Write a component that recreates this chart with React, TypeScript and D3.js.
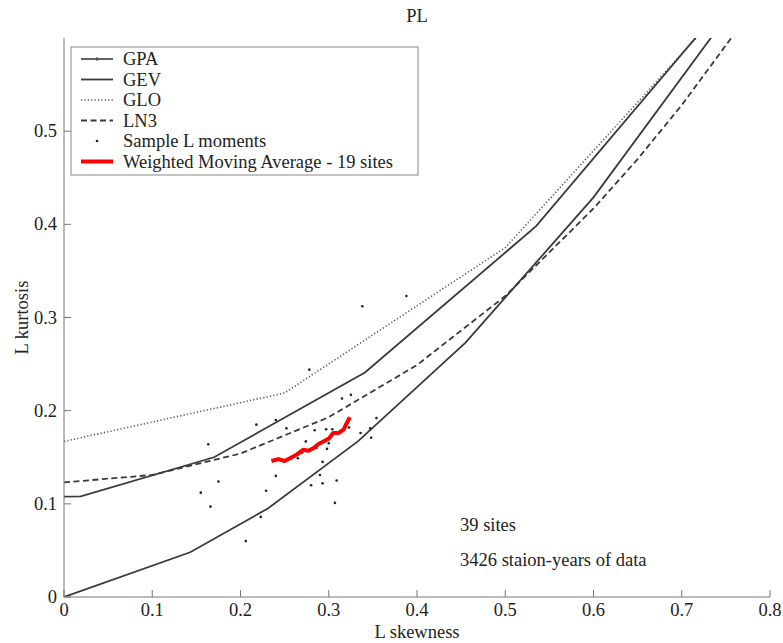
import React from 'react';
import * as d3 from 'd3';

// ---- data ----
const X_TICKS = [0, 0.1, 0.2, 0.3, 0.4, 0.5, 0.6, 0.7, 0.8];
const Y_TICKS = [0, 0.1, 0.2, 0.3, 0.4, 0.5];

const GPA_T3 = [0, 0.143, 0.231, 0.333, 0.455, 0.6, 0.778];
const GPA_T4 = [0, 0.048, 0.095, 0.167, 0.273, 0.429, 0.658];

const GEV_T3 = [-0.114, 0.019, 0.17, 0.341, 0.535, 0.753];
const GEV_T4 = [0.106, 0.108, 0.15, 0.241, 0.398, 0.642];

const GLO_T3 = [0, 0.25, 0.5, 0.75];
const GLO_T4 = [0.167, 0.219, 0.375, 0.635];

const LN3_T3 = [0, 0.1, 0.2, 0.3, 0.4, 0.5, 0.6, 0.65, 0.7, 0.76];
const LN3_T4 = [0.123, 0.131, 0.154, 0.193, 0.249, 0.323, 0.417, 0.47, 0.528, 0.605];

const SAMPLE_T3 = [
  0.315, 0.325, 0.218, 0.24, 0.252, 0.284, 0.297, 0.304, 0.323, 0.354,
  0.336, 0.347, 0.348, 0.1635, 0.274, 0.3, 0.298, 0.265, 0.293, 0.24,
  0.29, 0.175, 0.28, 0.293, 0.309, 0.155, 0.229, 0.166, 0.307, 0.223,
  0.206, 0.388, 0.338, 0.278, 0.258, 0.27, 0.286, 0.302, 0.314,
];
const SAMPLE_T4 = [
  0.213, 0.217, 0.185, 0.19, 0.181, 0.179, 0.18, 0.18, 0.182, 0.192,
  0.176, 0.181, 0.171, 0.164, 0.167, 0.165, 0.159, 0.149, 0.145, 0.13,
  0.131, 0.124, 0.12, 0.122, 0.125, 0.112, 0.114, 0.097, 0.101, 0.086,
  0.06, 0.323, 0.312, 0.244, 0.149, 0.155, 0.16, 0.171, 0.178,
];

const WMA_T3 = [0.235, 0.243, 0.25, 0.256, 0.264, 0.271, 0.277, 0.283, 0.288, 0.294, 0.3, 0.305, 0.311, 0.317, 0.32, 0.324];
const WMA_T4 = [0.146, 0.148, 0.146, 0.149, 0.153, 0.158, 0.157, 0.16, 0.164, 0.167, 0.17, 0.176, 0.176, 0.18, 0.186, 0.193];

const LEGEND_LABELS = ['GPA', 'GEV', 'GLO', 'LN3', 'Sample L moments', 'Weighted Moving Average - 19 sites'];
const TITLE = 'PL';
const X_LABEL = 'L skewness';
const Y_LABEL = 'L kurtosis';
const NOTE_1 = '39 sites';
const NOTE_2 = '3426 staion-years of data';

const FONT = '"Liberation Serif", "Times New Roman", serif';

function zip(a: number[], b: number[]): [number, number][] {
  return a.map((v, i) => [v, b[i]]);
}

export default function App() {
  const W = 783;
  const H = 643;
  const x = d3.scaleLinear().domain([0, 0.8]).range([64, 770]);
  const y = d3.scaleLinear().domain([0, 0.6]).range([597, 38]);
  const line = d3
    .line<[number, number]>()
    .x((d) => x(d[0]))
    .y((d) => y(d[1]));

  const curveColor = '#3a3a3a';
  const fs = 18.5;

  const legendRows = [59, 79.5, 100, 120.5, 141, 161.5];

  const fmt = (v: number) => (v === 0 ? '0' : d3.format('.1f')(v));

  return (
    <svg
      width={W}
      height={H}
      style={{ position: 'absolute', left: 0, top: 0, background: '#fff' }}
      fontFamily={FONT}
    >
      <defs>
        <clipPath id="plotclip">
          <rect x={x(0)} y={y(0.6)} width={x(0.8) - x(0)} height={y(0) - y(0.6)} />
        </clipPath>
      </defs>
      <rect x={0} y={0} width={W} height={H} fill="#fff" />

      {/* curves */}
      <g clipPath="url(#plotclip)" fill="none">
        <path d={line(zip(GLO_T3, GLO_T4)) || ''} stroke="#555" strokeWidth={1.6} strokeDasharray="1.2,2.2" />
        <path d={line(zip(GEV_T3, GEV_T4)) || ''} stroke={curveColor} strokeWidth={1.8} />
        <path d={line(zip(GPA_T3, GPA_T4)) || ''} stroke={curveColor} strokeWidth={1.8} />
        <path d={line(zip(LN3_T3, LN3_T4)) || ''} stroke={curveColor} strokeWidth={1.8} strokeDasharray="6,3.5" />
        {SAMPLE_T3.map((t3, i) => (
          <circle key={i} cx={x(t3)} cy={y(SAMPLE_T4[i])} r={1.3} fill="#222" stroke="none" />
        ))}
        <path
          d={line(zip(WMA_T3, WMA_T4)) || ''}
          stroke="#ff0000"
          strokeWidth={4}
          strokeLinejoin="round"
          strokeLinecap="butt"
        />
      </g>

      {/* axes */}
      <g stroke="#777" strokeWidth={1} fill="none">
        <line x1={x(0)} y1={y(0.6)} x2={x(0)} y2={y(0) + 0.5} />
        <line x1={x(0) - 0.5} y1={y(0)} x2={x(0.8)} y2={y(0)} />
        {X_TICKS.map((t) => (
          <line key={'xt' + t} x1={x(t)} y1={y(0)} x2={x(t)} y2={y(0) - 7} />
        ))}
        {Y_TICKS.map((t) => (
          <line key={'yt' + t} x1={x(0)} y1={y(t)} x2={x(0) + 7} y2={y(t)} />
        ))}
      </g>
      <g fill="#222" fontSize={fs}>
        {X_TICKS.map((t) => (
          <text key={'xl' + t} x={x(t)} y={616} textAnchor="middle">
            {fmt(t)}
          </text>
        ))}
        {Y_TICKS.map((t) => (
          <text key={'yl' + t} x={57} y={y(t) + 6} textAnchor="end">
            {fmt(t)}
          </text>
        ))}
        <text x={(x(0) + x(0.8)) / 2} y={638} textAnchor="middle">
          {X_LABEL}
        </text>
        <text transform={`translate(28, ${(y(0) + y(0.6)) / 2}) rotate(-90)`} textAnchor="middle">
          {Y_LABEL}
        </text>
        <text x={(x(0) + x(0.8)) / 2} y={22} textAnchor="middle">
          {TITLE}
        </text>
        <text x={460} y={531}>
          {NOTE_1}
        </text>
        <text x={460} y={566}>
          {NOTE_2}
        </text>
      </g>

      {/* legend */}
      <g>
        <rect x={71} y={47} width={347} height={128} fill="#fff" stroke="#888" strokeWidth={1} />
        <line x1={81} x2={113} y1={legendRows[0]} y2={legendRows[0]} stroke={curveColor} strokeWidth={1.6} />
        <line x1={97} x2={97} y1={legendRows[0] - 2} y2={legendRows[0] + 2} stroke={curveColor} strokeWidth={1} />
        <line x1={81} x2={113} y1={legendRows[1]} y2={legendRows[1]} stroke={curveColor} strokeWidth={1.8} />
        <line x1={81} x2={113} y1={legendRows[2]} y2={legendRows[2]} stroke="#555" strokeWidth={1.4} strokeDasharray="1.2,2.2" />
        <line x1={81} x2={113} y1={legendRows[3]} y2={legendRows[3]} stroke={curveColor} strokeWidth={1.8} strokeDasharray="6,3.5" />
        <circle cx={97} cy={legendRows[4]} r={1.3} fill="#222" />
        <line x1={81} x2={113} y1={legendRows[5]} y2={legendRows[5]} stroke="#ff0000" strokeWidth={4} />
        {LEGEND_LABELS.map((lab, i) => (
          <text key={lab} x={123} y={legendRows[i] + 6} fontSize={fs} fill="#222">
            {lab}
          </text>
        ))}
      </g>
    </svg>
  );
}
